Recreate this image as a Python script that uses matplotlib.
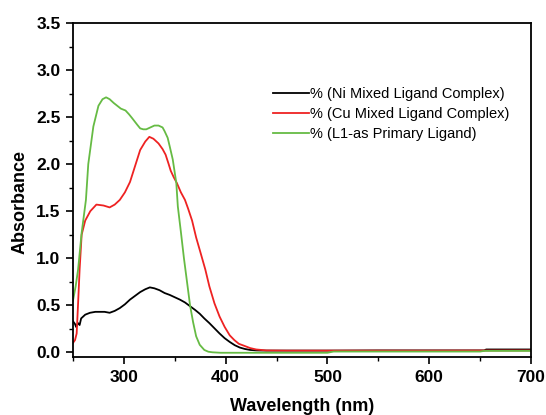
import numpy as np
import matplotlib
matplotlib.use("Agg")
import matplotlib.pyplot as plt
from matplotlib.ticker import MultipleLocator, FormatStrFormatter

plt.rcParams['font.family'] = ['Liberation Sans', 'DejaVu Sans']

# Ni mixed ligand complex (black)
ni_wl = [250, 252, 253, 255, 256.5, 258, 262, 266.7, 272, 276.5, 281, 286, 291, 296,
         301, 306, 311, 316, 321, 325.5, 330, 335, 340, 345, 350, 355, 360, 365,
         370, 374.5, 379, 384, 389, 394, 399, 404, 409, 414, 419, 424, 430, 440,
         460, 500, 550, 600, 654, 656, 700]
ni_abs = [0.33, 0.30, 0.27, 0.31, 0.29, 0.36, 0.40, 0.42, 0.43, 0.43, 0.43, 0.42, 0.44, 0.47,
          0.51, 0.56, 0.60, 0.64, 0.67, 0.69, 0.68, 0.66, 0.63, 0.61, 0.585, 0.56, 0.53, 0.49,
          0.45, 0.41, 0.36, 0.31, 0.255, 0.20, 0.15, 0.11, 0.075, 0.05, 0.035, 0.025, 0.02, 0.018,
          0.018, 0.018, 0.02, 0.02, 0.02, 0.03, 0.03]

# Cu mixed ligand complex (red)
cu_wl = [250, 252, 253.6, 255, 256.5, 258.5, 262, 267, 273, 280, 286, 291, 296, 301,
         306, 311, 316, 321, 325, 329, 334, 338, 341, 344, 346, 349, 352, 356, 360,
         363, 367, 371, 375, 380, 384, 389, 394, 399, 404, 408.5, 413, 418, 424, 430,
         440, 460, 500, 600, 700]
cu_abs = [0.10, 0.13, 0.20, 0.52, 0.88, 1.25, 1.40, 1.50, 1.57, 1.56, 1.54, 1.57, 1.62, 1.70,
          1.81, 1.98, 2.15, 2.24, 2.29, 2.27, 2.22, 2.16, 2.10, 2.00, 1.93, 1.86, 1.80, 1.70, 1.62,
          1.53, 1.40, 1.22, 1.07, 0.88, 0.70, 0.52, 0.38, 0.27, 0.18, 0.13, 0.09, 0.07, 0.045, 0.03,
          0.02, 0.018, 0.018, 0.018, 0.02]

# L1 as primary ligand (green)
l1_wl = [250, 252.6, 255, 258.5, 262.7, 265, 270, 275, 279, 282.5, 286, 290, 293.5, 297,
         301.6, 305, 308, 313, 316, 319, 322, 326, 330, 334, 338, 340, 343, 345, 348,
         351.5, 353, 356, 359, 362, 365, 368, 371, 374.5, 379, 383, 387, 395, 420,
         500, 506, 650, 654, 700]
l1_abs = [0.55, 0.70, 0.88, 1.27, 1.62, 2.00, 2.40, 2.62, 2.69, 2.71, 2.69, 2.65, 2.62, 2.59,
          2.57, 2.53, 2.49, 2.42, 2.38, 2.37, 2.37, 2.39, 2.41, 2.41, 2.39, 2.35, 2.28, 2.19, 2.05,
          1.80, 1.55, 1.28, 1.00, 0.75, 0.50, 0.32, 0.17, 0.08, 0.025, 0.006, 0.0, -0.005, -0.005,
          -0.005, 0.008, 0.008, 0.015, 0.015]

fig = plt.figure(figsize=(5.46, 4.15), dpi=100)
ax = fig.add_axes([73 / 546, 1 - 357 / 415, (531 - 73) / 546, (357 - 23) / 415])

ax.plot(ni_wl, ni_abs, color='black', lw=1.3, label='% (Ni Mixed Ligand Complex)')
ax.plot(cu_wl, cu_abs, color='#ee2222', lw=1.3, label='% (Cu Mixed Ligand Complex)')
ax.plot(l1_wl, l1_abs, color='#66bb44', lw=1.3, label='% (L1-as Primary Ligand)')

ax.set_xlim(250, 700)
ax.set_ylim(-0.05, 3.5)
ax.xaxis.set_major_locator(MultipleLocator(100))
ax.xaxis.set_minor_locator(MultipleLocator(50))
ax.yaxis.set_major_locator(MultipleLocator(0.5))
ax.yaxis.set_minor_locator(MultipleLocator(0.25))
ax.yaxis.set_major_formatter(FormatStrFormatter('%.1f'))
ax.tick_params(which='major', direction='out', length=5, width=1.2, labelsize=12.5, pad=4)
ax.tick_params(which='minor', direction='out', length=3, width=1.0)
for lab in ax.get_xticklabels() + ax.get_yticklabels():
    lab.set_fontweight('bold')
for s in ax.spines.values():
    s.set_linewidth(1.3)

ax.set_xlabel('Wavelength (nm)', fontsize=13, fontweight='bold')
ax.set_ylabel('Absorbance', fontsize=13, fontweight='bold')
ax.xaxis.set_label_coords(0.5, -0.148)
ax.yaxis.set_label_coords(-0.115, 0.464)
ax.xaxis.label.set_va('center')
ax.yaxis.label.set_va('center')

ax.legend(loc='center left', bbox_to_anchor=(0.424, 0.7275), frameon=False, fontsize=10.5,
          handlelength=2.45, handletextpad=0.1, labelspacing=0.4, borderaxespad=0)

fig.savefig('out.png', dpi=100)
